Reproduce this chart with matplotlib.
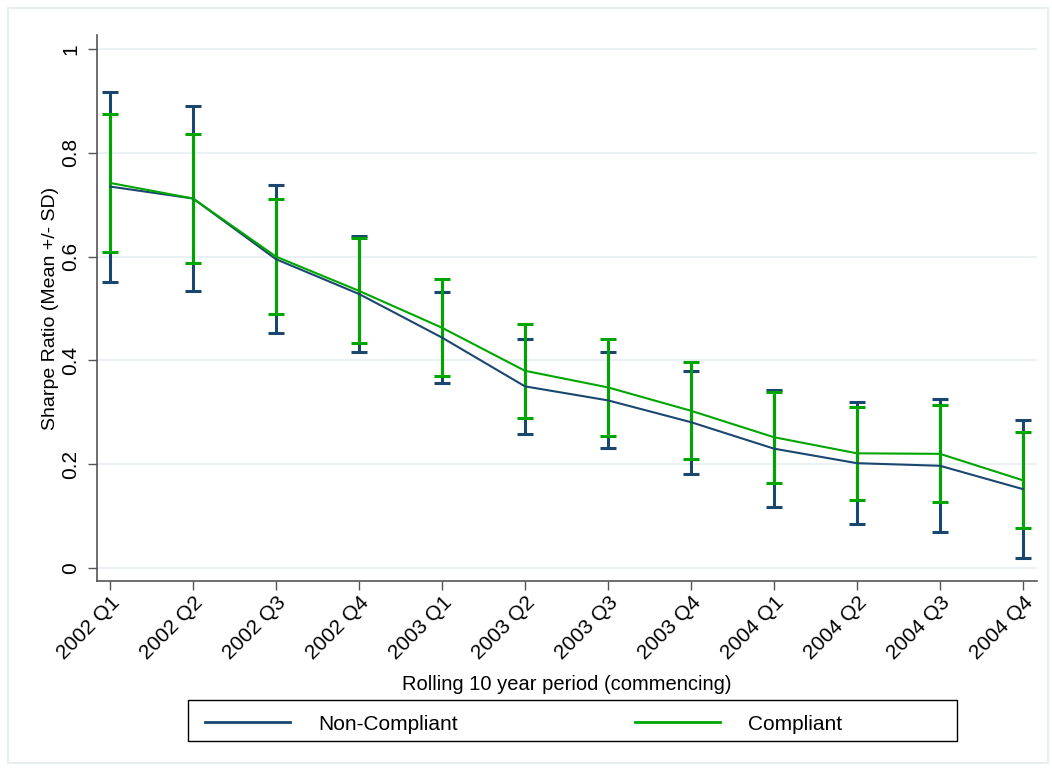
import matplotlib
matplotlib.use("Agg")
import matplotlib.pyplot as plt
from matplotlib.lines import Line2D
from matplotlib.patches import Rectangle
import numpy as np

periods = ["2002 Q1", "2002 Q2", "2002 Q3", "2002 Q4",
           "2003 Q1", "2003 Q2", "2003 Q3", "2003 Q4",
           "2004 Q1", "2004 Q2", "2004 Q3", "2004 Q4"]

non_mean = [0.735, 0.712, 0.595, 0.528, 0.444, 0.350, 0.323, 0.281, 0.230, 0.202, 0.197, 0.152]
non_sd = [0.183, 0.178, 0.1425, 0.1115, 0.087, 0.092, 0.0925, 0.0993, 0.1123, 0.1174, 0.128, 0.133]

comp_mean = [0.742, 0.712, 0.600, 0.534, 0.463, 0.380, 0.348, 0.303, 0.252, 0.221, 0.220, 0.169]
comp_sd = [0.1325, 0.1235, 0.1115, 0.101, 0.0935, 0.091, 0.093, 0.0933, 0.0877, 0.0896, 0.0932, 0.0925]

yticks = [0, 0.2, 0.4, 0.6, 0.8, 1]
ytick_labels = ["0", "0.2", "0.4", "0.6", "0.8", "1"]

navy = "#1a476f"
green = "#00a600"

plt.rcParams["font.family"] = ["Liberation Sans", "DejaVu Sans"]

W, H = 1052, 771
fig = plt.figure(figsize=(W / 100, H / 100), dpi=100)
ax = fig.add_axes([97 / W, 1 - 581 / H, 940 / W, 546 / H])

x = np.arange(len(periods))

# error bars first, means drawn on top
ax.errorbar(x, non_mean, yerr=non_sd, fmt="none", ecolor=navy,
            elinewidth=2.2, capsize=6, capthick=2.2, zorder=2)
ax.errorbar(x, comp_mean, yerr=comp_sd, fmt="none", ecolor=green,
            elinewidth=2.2, capsize=6, capthick=2.2, zorder=3)
ax.plot(x, non_mean, color=navy, lw=1.5, zorder=4)
ax.plot(x, comp_mean, color=green, lw=1.5, zorder=5)

ax.set_xlim(-0.157, 11.169)
ax.set_ylim(-0.025, 1.027)
ax.set_xticks(x)
ax.set_xticklabels(periods, rotation=45, ha="right", rotation_mode="anchor", fontsize=15)
ax.set_yticks(yticks)
ax.set_yticklabels(ytick_labels, rotation=90, va="center", fontsize=15)

ax.grid(axis="y", color="#eaf0f3", lw=1.5)
ax.set_axisbelow(True)
for side in ["top", "right"]:
    ax.spines[side].set_visible(False)
for side in ["left", "bottom"]:
    ax.spines[side].set_color("#555555")
    ax.spines[side].set_linewidth(1.2)
ax.tick_params(axis="both", length=6.8, width=1, color="#555555")
ax.tick_params(axis="x", pad=2)
ax.tick_params(axis="y", pad=5)

ax.set_xlabel("Rolling 10 year period (commencing)", fontsize=14.5, labelpad=8)
ax.set_ylabel("Sharpe Ratio (Mean +/- SD)", fontsize=14, labelpad=2)

# legend box drawn separately, keys placed inside it
fig.patches.append(Rectangle((188 / W, 1 - 741 / H), 769 / W, 41 / H,
                             transform=fig.transFigure, fill=False,
                             edgecolor="black", lw=1))
handles = [Line2D([], [], color=navy, lw=2), Line2D([], [], color=green, lw=2)]
fs = 15
px = fs * 100 / 72
fig.legend(handles, ["Non-Compliant", "Compliant"], loc="center left",
           bbox_to_anchor=(205 / W, 1 - 724 / H), ncol=2, fontsize=fs,
           frameon=False, handlelength=85 / px, handletextpad=28 / px,
           columnspacing=177 / px, borderpad=0, borderaxespad=0)

# light outer border around the whole graph region
fig.patches.append(Rectangle((8 / W, 8 / H), 1 - 12 / W, 1 - 16 / H,
                             transform=fig.transFigure, fill=False,
                             edgecolor="#e6eef0", lw=1.5))

fig.savefig("out.png", dpi=100)
